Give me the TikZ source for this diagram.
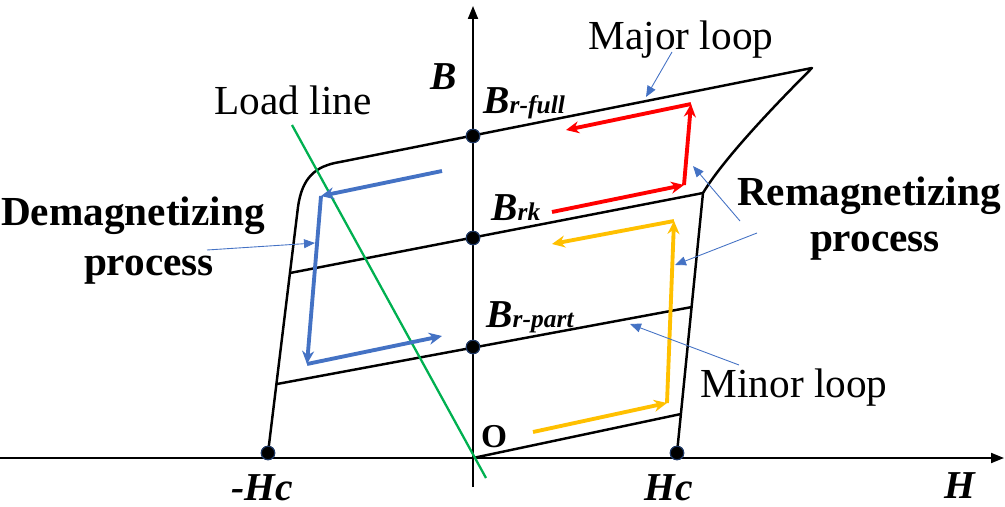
\documentclass[tikz,border=0pt]{standalone}
\usepackage{fontspec}
\setmainfont{Liberation Serif}
\usepackage{tikz}
\usetikzlibrary{arrows.meta,positioning,calc}
\definecolor{loadgreen}{RGB}{0,176,80}
\definecolor{demagblue}{RGB}{68,114,196}
\definecolor{minoryellow}{RGB}{255,192,0}
\definecolor{dotnavy}{RGB}{31,56,100}
\tikzset{
  axis/.style={line width=1.1pt, draw=black, -{Triangle[length=2.6mm,width=2mm]}},
  loopline/.style={line width=1.4pt, draw=black, line join=round},
  loadline/.style={line width=1.3pt, draw=loadgreen},
  demagpath/.style={line width=2.2pt, draw=demagblue, -{Stealth[length=2.6mm,width=2.4mm]}},
  remagpath/.style={line width=2.2pt, draw=red, -{Stealth[length=2.6mm,width=2.4mm]}},
  minorpath/.style={line width=2.2pt, draw=minoryellow, -{Stealth[length=2.6mm,width=2.4mm]}},
  callout/.style={line width=0.5pt, draw=demagblue, -{Triangle[length=2.2mm,width=1.8mm]}},
  dot/.style={circle, fill=black, draw=dotnavy, line width=0.6pt, minimum size=2.7mm, inner sep=0pt},
  plainlabel/.style={font=\fontsize{23.5}{26}\selectfont, inner sep=0pt, anchor=base},
  boldlabel/.style={font=\fontsize{23.5}{26}\selectfont\bfseries, inner sep=0pt, anchor=base},
  maglabel/.style={font=\fontsize{22.5}{26}\selectfont\bfseries\itshape, inner sep=0pt, anchor=base},
  remlabel/.style={font=\fontsize{22.5}{26}\selectfont\bfseries\itshape, inner sep=0pt, anchor=base west}
}
\newcommand{\remsub}[1]{{\fontsize{14.5}{16}\selectfont #1}}

\begin{document}
\begin{tikzpicture}[x=0.02cm, y=-0.02cm]
\useasboundingbox (0,0) rectangle (1005,507);

\coordinate (O) at (473,458);
\coordinate (hleft) at (0,458);
\coordinate (hright) at (1004,458);
\coordinate (bbottom) at (473,487);
\coordinate (btop) at (473,6);
\draw[axis] (hleft) -- (hright);
\draw[axis] (bbottom) -- (btop);

\coordinate (cornerlow) at (298,207);
\coordinate (cornerhigh) at (340,162);
\coordinate (tip) at (812,68);
\coordinate (knee) at (703,193);
\coordinate (rkleft) at (290,273);
\coordinate (partleft) at (277,384);
\coordinate (partright) at (692,307);
\coordinate (lowright) at (681,414);

\node[dot] (negHc) at (268,453) {};
\node[dot] (Hc) at (677,453) {};
\node[dot] (Brfull) at (473,136) {};
\node[dot] (Brk) at (473,238) {};
\node[dot] (Brpart) at (473,347) {};

\draw[loopline] (negHc.center) -- (cornerlow) .. controls (302,178) and (315,166) .. (cornerhigh) -- (tip)
  .. controls (777,103) and (724,158) .. (knee) -- (Hc.center);
\draw[loopline] (rkleft) -- (knee);
\draw[loopline] (partleft) -- (partright);
\draw[loopline] (O) -- (lowright);
\node[dot] at (negHc) {};
\node[dot] at (Hc) {};
\node[dot] at (Brfull) {};
\node[dot] at (Brk) {};
\node[dot] at (Brpart) {};

\coordinate (loadtop) at (292,125);
\coordinate (loadbottom) at (486,478);
\draw[loadline] (loadtop) -- (loadbottom);

\coordinate (d1) at (442,171);
\coordinate (d2) at (321,196);
\coordinate (d3) at (307,364);
\coordinate (d4) at (442,336);
\draw[demagpath] (d1) -- (d2);
\draw[demagpath] (d2) -- (d3);
\draw[demagpath] (d3) -- (d4);

\coordinate (r1) at (552,212);
\coordinate (r2) at (684,185);
\coordinate (r3) at (691,104);
\coordinate (r4) at (566,130);
\draw[remagpath] (r1) -- (r2);
\draw[remagpath] (r2) -- (r3);
\draw[remagpath] (r3) -- (r4);

\coordinate (y1) at (533,432);
\coordinate (y2) at (667,403);
\coordinate (y3) at (674,221);
\coordinate (y4) at (552,244);
\draw[minorpath] (y1) -- (y2);
\draw[minorpath] (y2) -- (y3);
\draw[minorpath] (y3) -- (y4);

\node[plainlabel] (majorlabel) at (681,50) {Major loop};
\node[plainlabel] (loadlabel) at (293,114) {Load line};
\node[plainlabel] (minorlabel) at (794,397) {Minor loop};
\node[boldlabel] (demaglabel) at (133,225) {Demagnetizing};
\node[boldlabel] (demagproc) at (149,275) {process};
\node[boldlabel] (remaglabel) at (869,205) {Remagnetizing};
\node[boldlabel] (remagproc) at (875,251) {process};

\coordinate (majortail) at (672,52);
\coordinate (majortip) at (646,97);
\coordinate (remagtail) at (740,221);
\coordinate (remagtip) at (693,166);
\coordinate (remagtailb) at (757,233);
\coordinate (remagtipb) at (675,265);
\coordinate (minortail) at (739,365);
\coordinate (minortip) at (630,324);
\coordinate (demagtail) at (207,250);
\coordinate (demagtip) at (315,243);
\draw[callout] (majortail) -- (majortip);
\draw[callout] (remagtail) -- (remagtip);
\draw[callout] (remagtailb) -- (remagtipb);
\draw[callout] (minortail) -- (minortip);
\draw[callout] (demagtail) -- (demagtip);

\node[maglabel] (Blabel) at (444,90) {B};
\node[remlabel] (Brfulllabel) at (483,113) {B\remsub{r-full}};
\node[remlabel] (Brklabel) at (491,220) {B\remsub{rk}};
\node[remlabel] (Brpartlabel) at (486,327) {B\remsub{r-part}};
\node[font=\fontsize{19}{22}\selectfont\bfseries, inner sep=0pt, anchor=base] (Olabel) at (494,447) {O};
\node[maglabel] (negHclabel) at (262,500) {-Hc};
\node[maglabel] (Hclabel) at (669,500) {Hc};
\node[maglabel] (Hlabel) at (960,498) {H};
\end{tikzpicture}
\end{document}
